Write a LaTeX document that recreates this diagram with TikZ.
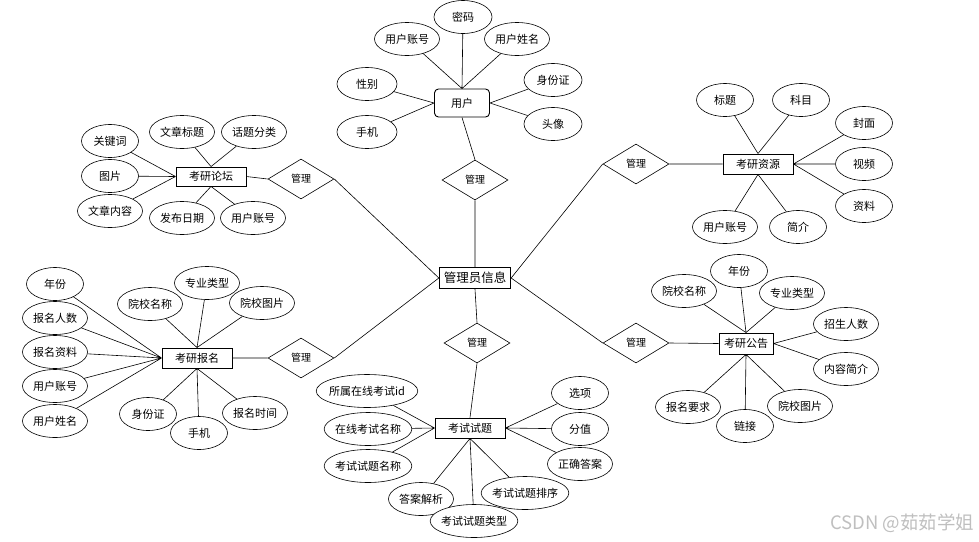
\documentclass[tikz,border=0pt]{standalone}
\usepackage{fontspec}
\setmainfont{Noto Sans CJK SC}
\usetikzlibrary{shapes.geometric}

\begin{document}
\begin{tikzpicture}[x=1pt, y=-1pt, font=\fontsize{11}{13}\selectfont,
    attr/.style={ellipse, draw, fill=white, line width=0.6pt, inner xsep=1pt, inner ysep=0pt, minimum width=57pt, minimum height=33pt},
    wide/.style={inner xsep=-2pt},
    entity/.style={rectangle, draw, fill=white, line width=0.9pt, minimum width=70pt, minimum height=20pt},
    rel/.style={diamond, draw, fill=white, line width=0.6pt, inner sep=0pt, minimum width=66pt, minimum height=40pt, font=\fontsize{10}{12}\selectfont},
    link/.style={line width=0.6pt}]
    \useasboundingbox (0,0) rectangle (979,541);

    % Entities
    \node[entity, line width=1.3pt, minimum width=71pt, minimum height=21pt, font=\fontsize{12.5}{14}\selectfont] (M) at (475,278) {管理员信息};
    \node[entity, rounded corners=4pt, minimum width=55pt, minimum height=28pt] (U) at (462,103) {用户};
    \node[entity, minimum height=19pt] (F) at (211,176.5) {考研论坛};
    \node[entity] (R) at (758,164) {考研资源};
    \node[entity] (A) at (197,358) {考研报名};
    \node[entity, minimum width=54pt, minimum height=21pt] (N) at (746,343.5) {考研公告};
    \node[entity] (E) at (470,428) {考试试题};

    % Relations
    \node[rel] (MU) at (475,180) {管理};
    \node[rel] (MF) at (301,179) {管理};
    \node[rel] (MR) at (636,164) {管理};
    \node[rel] (MA) at (301,358) {管理};
    \node[rel] (MN) at (636,343) {管理};
    \node[rel] (ME) at (477,343) {管理};

    % User attributes
    \node[attr, minimum width=58pt] (U1) at (463,17) {密码};
    \node[attr] (U2) at (407,39) {用户账号};
    \node[attr] (U3) at (517,39) {用户姓名};
    \node[attr, minimum width=60pt] (U4) at (367,84) {性别};
    \node[attr, minimum width=60pt] (U5) at (367,132) {手机};
    \node[attr, minimum width=58pt] (U6) at (553,80) {身份证};
    \node[attr, minimum width=58pt] (U7) at (553,124) {头像};

    % Forum attributes
    \node[attr] (F1) at (110,141) {关键词};
    \node[attr] (F2) at (110,176) {图片};
    \node[attr] (F3) at (110,211) {文章内容};
    \node[attr] (F4) at (182,132) {文章标题};
    \node[attr] (F5) at (254,132) {话题分类};
    \node[attr] (F6) at (182,218) {发布日期};
    \node[attr] (F7) at (253,218) {用户账号};

    % Resource attributes
    \node[attr] (R1) at (725,100) {标题};
    \node[attr] (R2) at (801,100) {科目};
    \node[attr] (R3) at (864,123) {封面};
    \node[attr] (R4) at (864,164) {视频};
    \node[attr] (R5) at (864,206) {资料};
    \node[attr] (R6) at (725,227) {用户账号};
    \node[attr] (R7) at (798,227) {简介};

    % Registration attributes
    \node[attr] (A1) at (55,284) {年份};
    \node[attr] (A2) at (55,318) {报名人数};
    \node[attr] (A3) at (55,352) {报名资料};
    \node[attr] (A4) at (55,386) {用户账号};
    \node[attr] (A5) at (55,421) {用户姓名};
    \node[attr] (A6) at (150,304) {院校名称};
    \node[attr] (A7) at (207,283) {专业类型};
    \node[attr] (A8) at (262,303) {院校图片};
    \node[attr] (A9) at (148,414) {身份证};
    \node[attr] (A10) at (199,433) {手机};
    \node[attr] (A11) at (255,413) {报名时间};

    % Notice attributes
    \node[attr] (N1) at (684,291) {院校名称};
    \node[attr] (N2) at (739,271) {年份};
    \node[attr] (N3) at (792,293) {专业类型};
    \node[attr] (N4) at (846,324) {招生人数};
    \node[attr] (N5) at (846,369) {内容简介};
    \node[attr] (N6) at (688,407) {报名要求};
    \node[attr] (N7) at (745,426) {链接};
    \node[attr] (N8) at (800,406) {院校图片};

    % Exam attributes
    \node[attr, wide] (E1) at (367,391) {所属在线考试id};
    \node[attr, wide] (E2) at (368,429) {在线考试名称};
    \node[attr, wide] (E3) at (368,466) {考试试题名称};
    \node[attr] (E4) at (580,393) {选项};
    \node[attr] (E5) at (580,429) {分值};
    \node[attr] (E6) at (580,464) {正确答案};
    \node[attr] (E7) at (421,499) {答案解析};
    \node[attr, wide] (E9) at (525,493) {考试试题排序};
    \node[attr, wide] (E8) at (474,521) {考试试题类型};

    % Relation wires
    \draw[link] (U.south) -- (MU.north) (MU.south) -- (M.north);
    \draw[link] (F.east) -- (MF.west) (MF.east) -- (M.west);
    \draw[link] (R.west) -- (MR.east) (MR.west) -- (M.east);
    \draw[link] (A.east) -- (MA.west) (MA.east) -- (M.west);
    \draw[link] (N.west) -- (MN.east) (MN.west) -- (M.east);
    \draw[link] (M.south) -- (ME.north) (ME.south) -- (E.north);

    % Attribute wires
    \draw[link] (U.north) -- (U1) (U.north) -- (U2) (U.north) -- (U3)
        (U.west) -- (U4) (U.west) -- (U5) (U.east) -- (U6) (U.east) -- (U7);
    \draw[link] (F.west) -- (F1) (F.west) -- (F2) (F.west) -- (F3)
        (F.north) -- (F4) (F.north) -- (F5) (F.south) -- (F6) (F.south) -- (F7);
    \draw[link] (R.north) -- (R1) (R.north) -- (R2) (R.east) -- (R3) (R.east) -- (R4)
        (R.east) -- (R5) (R.south) -- (R6) (R.south) -- (R7);
    \draw[link] (A.west) -- (A1) (A.west) -- (A2) (A.west) -- (A3) (A.west) -- (A4)
        (A.west) -- (A5) (A.north) -- (A6) (A.north) -- (A7) (A.north) -- (A8)
        (A.south) -- (A9) (A.south) -- (A10) (A.south) -- (A11);
    \draw[link] (N.north) -- (N1) (N.north) -- (N2) (N.north) -- (N3) (N.east) -- (N4)
        (N.east) -- (N5) (N.south) -- (N6) (N.south) -- (N7) (N.south) -- (N8);
    \draw[link] (E.west) -- (E1) (E.west) -- (E2) (E.west) -- (E3) (E.east) -- (E4)
        (E.east) -- (E5) (E.east) -- (E6) (E.south) -- (E7) (E.south) -- (E8) (E.south) -- (E9);

    % Watermark
    \node[anchor=east, text=black!25, font=\fontsize{18.5}{20}\selectfont] (W) at (978,523) {CSDN @茹茹学姐};
\end{tikzpicture}
\end{document}
